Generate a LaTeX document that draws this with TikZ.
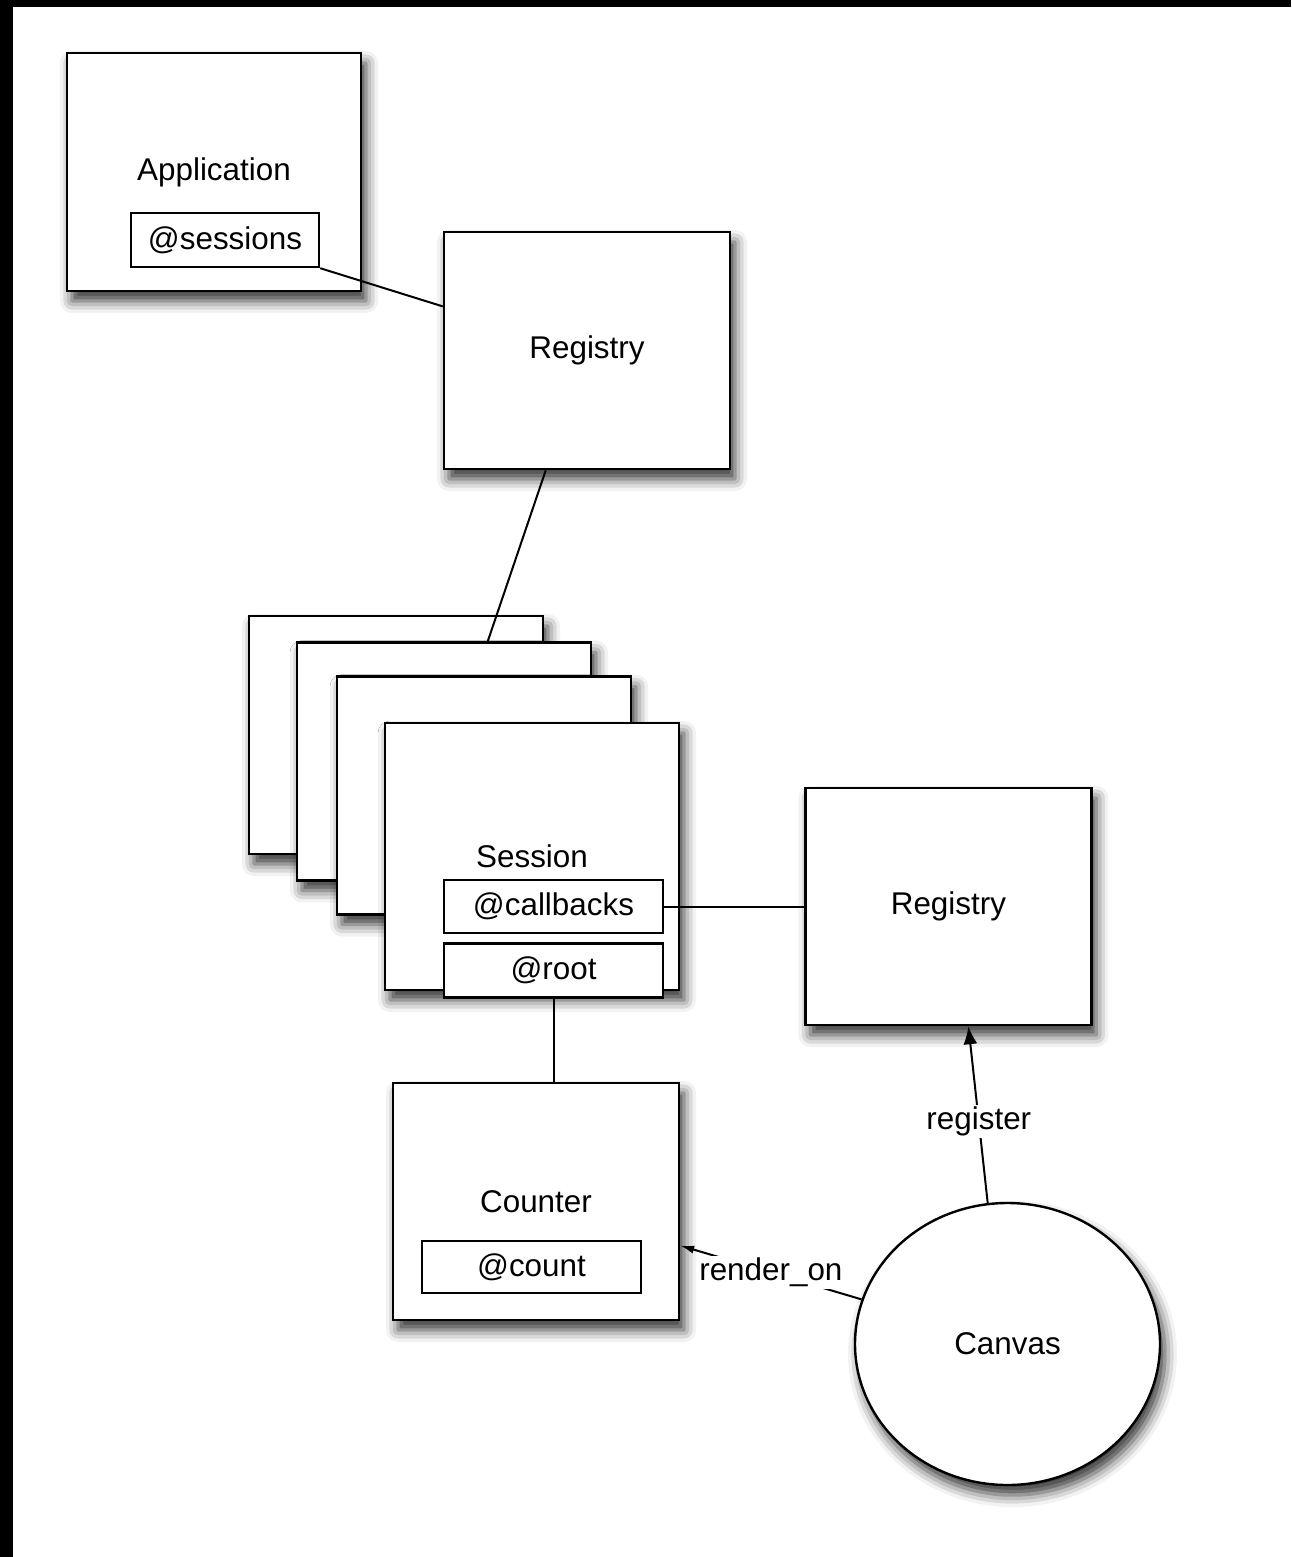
\documentclass[tikz,border=0pt]{standalone}
\usepackage{fontspec}
\setmainfont{Liberation Sans}
\usetikzlibrary{positioning,arrows.meta,shapes.geometric,shadows.blur}

\newcommand{\diagfont}{\fontsize{15.7pt}{19pt}\selectfont}

\begin{document}
\begin{tikzpicture}[
    x=0.5pt, y=-0.5pt,
    softshadow/.style={blur shadow={shadow xshift=2.5pt, shadow yshift=-5pt, shadow blur radius=6pt, shadow opacity=80}},
    objnode/.style={rectangle, draw=black, fill=white, line width=1.2pt, inner sep=0pt,
        minimum width=143pt, minimum height=118.5pt, font=\diagfont, softshadow},
    stacknode/.style={objnode, minimum width=147pt, minimum height=119pt},
    fieldnode/.style={rectangle, draw=black, fill=white, line width=1.2pt, inner sep=0pt,
        minimum width=109.5pt, minimum height=26.5pt, font=\diagfont},
    roundnode/.style={ellipse, draw=black, fill=white, line width=1.2pt, inner sep=0pt,
        minimum width=152.5pt, minimum height=141pt, font=\diagfont, softshadow},
    link/.style={draw=black, line width=1pt},
    labelnode/.style={fill=white, inner sep=1pt, font=\diagfont}
    ]
        % frame
        \useasboundingbox (0,0) rectangle (1291,1557);
        \fill[black] (0,0) rectangle (13,1557);
        \fill[black] (0,0) rectangle (1291,7);

        %Nodes
        \node[stacknode] (app) at (214,172) {Application};
        \node[fieldnode, minimum width=94pt, minimum height=27pt]
            (sessions) at (225,240) {@sessions};
        \node[objnode] (reg1) at (587,350.5) {Registry};

        \node[stacknode] (sess1) at (396,735) {};
        \node[stacknode] (sess2) at (444,761.5) {};
        \node[stacknode] (sess3) at (484,795.5) {};
        \node[stacknode, minimum height=133.5pt]
            (sess4) at (532,856.5) {Session};
        \node[fieldnode] (callbacks) at (553.5,906.5) {@callbacks};
        \node[fieldnode, minimum height=27pt]
            (root) [below=4pt of callbacks] {@root};

        \node[objnode] (reg2) [right=70pt of callbacks] {Registry};

        \node[objnode] (counter) at (536,1201.5) {Counter};
        \node[fieldnode, minimum height=26pt] (count) at (531.5,1267) {@count};

        \node[roundnode] (canvas) at (1007.5,1344) {Canvas};

        %Lines
        \draw[link] (sessions.south east) -- (reg1.163);
        \draw[link] (reg1.251) -- (sess2.70);
        \draw[link] (callbacks.east) -- (reg2.west);
        \draw[link] (root.south) -- (root.south |- counter.north);
        \draw[link, -{Latex[length=9pt,width=7pt]}]
            (canvas.98) -- node[labelnode, pos=0.46] {register} ([xshift=10pt]reg2.south);
        \draw[link, -{Latex[length=7pt,width=4pt]}]
            (canvas.163) -- node[labelnode, pos=0.5] {render\_on} (counter.-17);
    \end{tikzpicture}
\end{document}
